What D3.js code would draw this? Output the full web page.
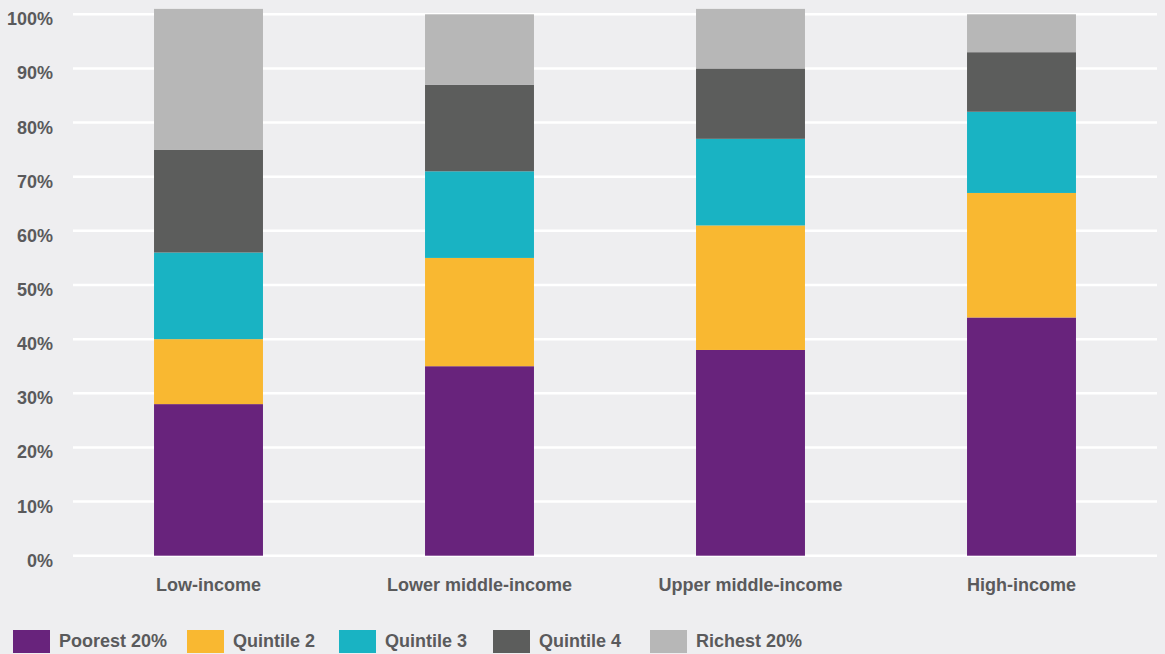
<!DOCTYPE html>
<html><head><meta charset="utf-8">
<script src="https://cdn.jsdelivr.net/npm/d3@7"></script>
<style>
html,body{margin:0;padding:0;background:#eeeef0;}
svg{display:block;}
text{font-family:"Liberation Sans",Arial,sans-serif;font-weight:bold;fill:#5a5a5c;}
</style></head>
<body>
<svg id="chart" width="1165" height="654"></svg>
<script>
const categories = ["Low-income", "Lower middle-income", "Upper middle-income", "High-income"];
const seriesNames = ["Poorest 20%", "Quintile 2", "Quintile 3", "Quintile 4", "Richest 20%"];
const poorest = [28, 35, 38, 44];
const quintile2 = [12, 20, 23, 23];
const quintile3 = [16, 16, 16, 15];
const quintile4 = [19, 16, 13, 11];
const richest = [26, 13, 11, 7];
const yTicks = [0, 10, 20, 30, 40, 50, 60, 70, 80, 90, 100];
const colors = ["#68237c", "#f9b831", "#19b3c3", "#5c5d5c", "#b7b7b7"];

const seriesValues = [poorest, quintile2, quintile3, quintile4, richest];
const rows = categories.map((c, i) => {
  const r = {category: c};
  seriesNames.forEach((s, j) => r[s] = seriesValues[j][i]);
  return r;
});

const svg = d3.select("#chart");
const x = d3.scaleBand().domain(categories).range([73, 1157]).paddingInner(0.598).paddingOuter(0.299);
const y = d3.scaleLinear().domain([0, 100]).range([555.7, 14.3]);

// gridlines
svg.append("g").selectAll("line").data(yTicks).join("line")
  .attr("x1", 73).attr("x2", 1157)
  .attr("y1", d => y(d)).attr("y2", d => y(d))
  .attr("stroke", "#ffffff").attr("stroke-width", 2.5);

// y labels
svg.append("g").selectAll("text").data(yTicks).join("text")
  .attr("x", 53).attr("y", d => y(d) + 11)
  .attr("text-anchor", "end").attr("font-size", 18)
  .text(d => d + "%");

const stack = d3.stack().keys(seriesNames)(rows);
svg.append("g").selectAll("g").data(stack).join("g")
  .attr("fill", (d, i) => colors[i])
  .selectAll("rect").data(d => d).join("rect")
  .attr("x", d => x(d.data.category))
  .attr("width", x.bandwidth())
  .attr("y", d => y(d[1]))
  .attr("height", d => y(d[0]) - y(d[1]));

// category labels
svg.append("g").selectAll("text").data(categories).join("text")
  .attr("x", d => x(d) + x.bandwidth() / 2).attr("y", 591)
  .attr("text-anchor", "middle").attr("font-size", 18)
  .text(d => d);

// legend (layout positions)
const legendX = [13, 187, 339, 493, 650];
const lg = svg.append("g");
seriesNames.forEach((s, i) => {
  lg.append("rect").attr("x", legendX[i]).attr("y", 630).attr("width", 37).attr("height", 23).attr("fill", colors[i]);
  lg.append("text").attr("x", legendX[i] + 46).attr("y", 647).attr("font-size", 18).text(s);
});
</script>
</body></html>
